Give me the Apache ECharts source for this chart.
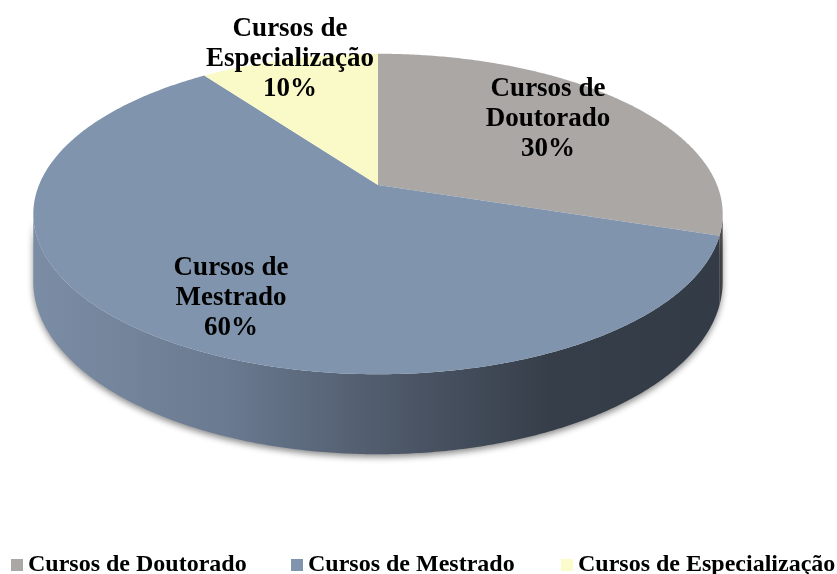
<!DOCTYPE html>
<html>
<head>
<meta charset="utf-8">
<script src="https://cdn.jsdelivr.net/npm/echarts@6/dist/echarts.min.js"></script>
<style>
html,body{margin:0;padding:0;background:#fff;}
#c{width:837px;height:574px;}
</style>
</head>
<body>
<div id="c"></div>
<script>
// ---- data ----
const categories = ['Cursos de Doutorado', 'Cursos de Mestrado', 'Cursos de Especialização'];
const values = [30, 60, 10];

// ---- styles / layout ----
const topColors = ['#aba7a5', '#8095ad', '#fafac9'];
const legendColors = ['#aba7a5', '#8095ad', '#fbfbcb'];
const labelPos = [[548, 119], [231, 298], [290, 59]];
const legendLeft = [11, 291, 561];
const G = { cx: 378, cy: 185, A: 339, B: 155, k: 0.181, D: 65.5 };

const total = values.reduce((a, b) => a + b, 0);
const starts = [];
let acc = 0;
values.forEach(v => { starts.push(acc / total * 360); acc += v; });

function proj(deg, bottom) {
  const t = deg * Math.PI / 180;
  const u = Math.sin(t), v = Math.cos(t);
  const w = 1 + G.k * v;
  return [G.cx + G.A * u / w, G.cy - G.B * v / w + (bottom ? G.D / w : 0)];
}
const thR = Math.acos(-G.k) * 180 / Math.PI;
const thL = 360 - thR;

const sideFills = [
  new echarts.graphic.LinearGradient(33, 0, 722, 0, [
    { offset: 0, color: '#8a8685' }, { offset: 1, color: '#4f4c4b' }], true),
  new echarts.graphic.LinearGradient(33, 0, 722, 0, [
    { offset: 0, color: '#7b8da5' },
    { offset: 0.28, color: '#6a7a90' },
    { offset: 0.55, color: '#4b5565' },
    { offset: 0.75, color: '#363e49' },
    { offset: 1, color: '#333b46' }], true),
  '#c9c9a0'
];

function makeSeries(i) {
  return {
    type: 'custom',
    name: categories[i],
    coordinateSystem: 'none',
    color: legendColors[i],
    silent: true,
    data: [[values[i]]],
    renderItem: function () {
      const a0 = starts[i];
      const a1 = starts[i] + values[i] / total * 360;
      const children = [];
      const s0 = Math.max(a0, thR), s1 = Math.min(a1, thL);
      if (s1 > s0) {
        const pts = [];
        for (let d = s0; d <= s1 + 1e-9; d += 0.5) pts.push(proj(Math.min(d, s1), false));
        for (let d = s1; d >= s0 - 1e-9; d -= 0.5) pts.push(proj(Math.max(d, s0), true));
        pts.push(proj(s0, true));
        children.push({
          type: 'polygon', z2: 1,
          shape: { points: pts },
          style: { fill: sideFills[i], shadowBlur: 6, shadowOffsetY: 3, shadowColor: 'rgba(0,0,0,0.45)' }
        });
      }
      const tp = [[G.cx, G.cy]];
      for (let d = a0; d <= a1 + 1e-9; d += 0.5) tp.push(proj(Math.min(d, a1), false));
      tp.push(proj(a1, false));
      children.push({
        type: 'polygon', z2: 10,
        shape: { points: tp },
        style: { fill: topColors[i] }
      });
      const pct = Math.round(values[i] / total * 100) + '%';
      children.push({
        type: 'text', z2: 20,
        style: {
          text: categories[i].replace('Cursos de ', 'Cursos de\n') + '\n' + pct,
          x: labelPos[i][0], y: labelPos[i][1],
          align: 'center', verticalAlign: 'middle',
          fontSize: 27, fontWeight: 'bold', fontFamily: 'Liberation Serif',
          lineHeight: 30, fill: '#000'
        }
      });
      return { type: 'group', children: children };
    }
  };
}

const chart = echarts.init(document.getElementById('c'), null, { renderer: 'canvas' });
chart.setOption({
  animation: false,
  backgroundColor: '#fff',
  legend: categories.map((c, i) => ({
    data: [c],
    left: legendLeft[i],
    top: 553,
    padding: 0,
    icon: 'rect',
    itemWidth: 12,
    itemHeight: 12,
    selectedMode: false,
    textStyle: { fontSize: 24, fontWeight: 'bold', fontFamily: 'Liberation Serif', color: '#000' }
  })),
  series: categories.map((c, i) => makeSeries(i))
});
</script>
</body>
</html>
